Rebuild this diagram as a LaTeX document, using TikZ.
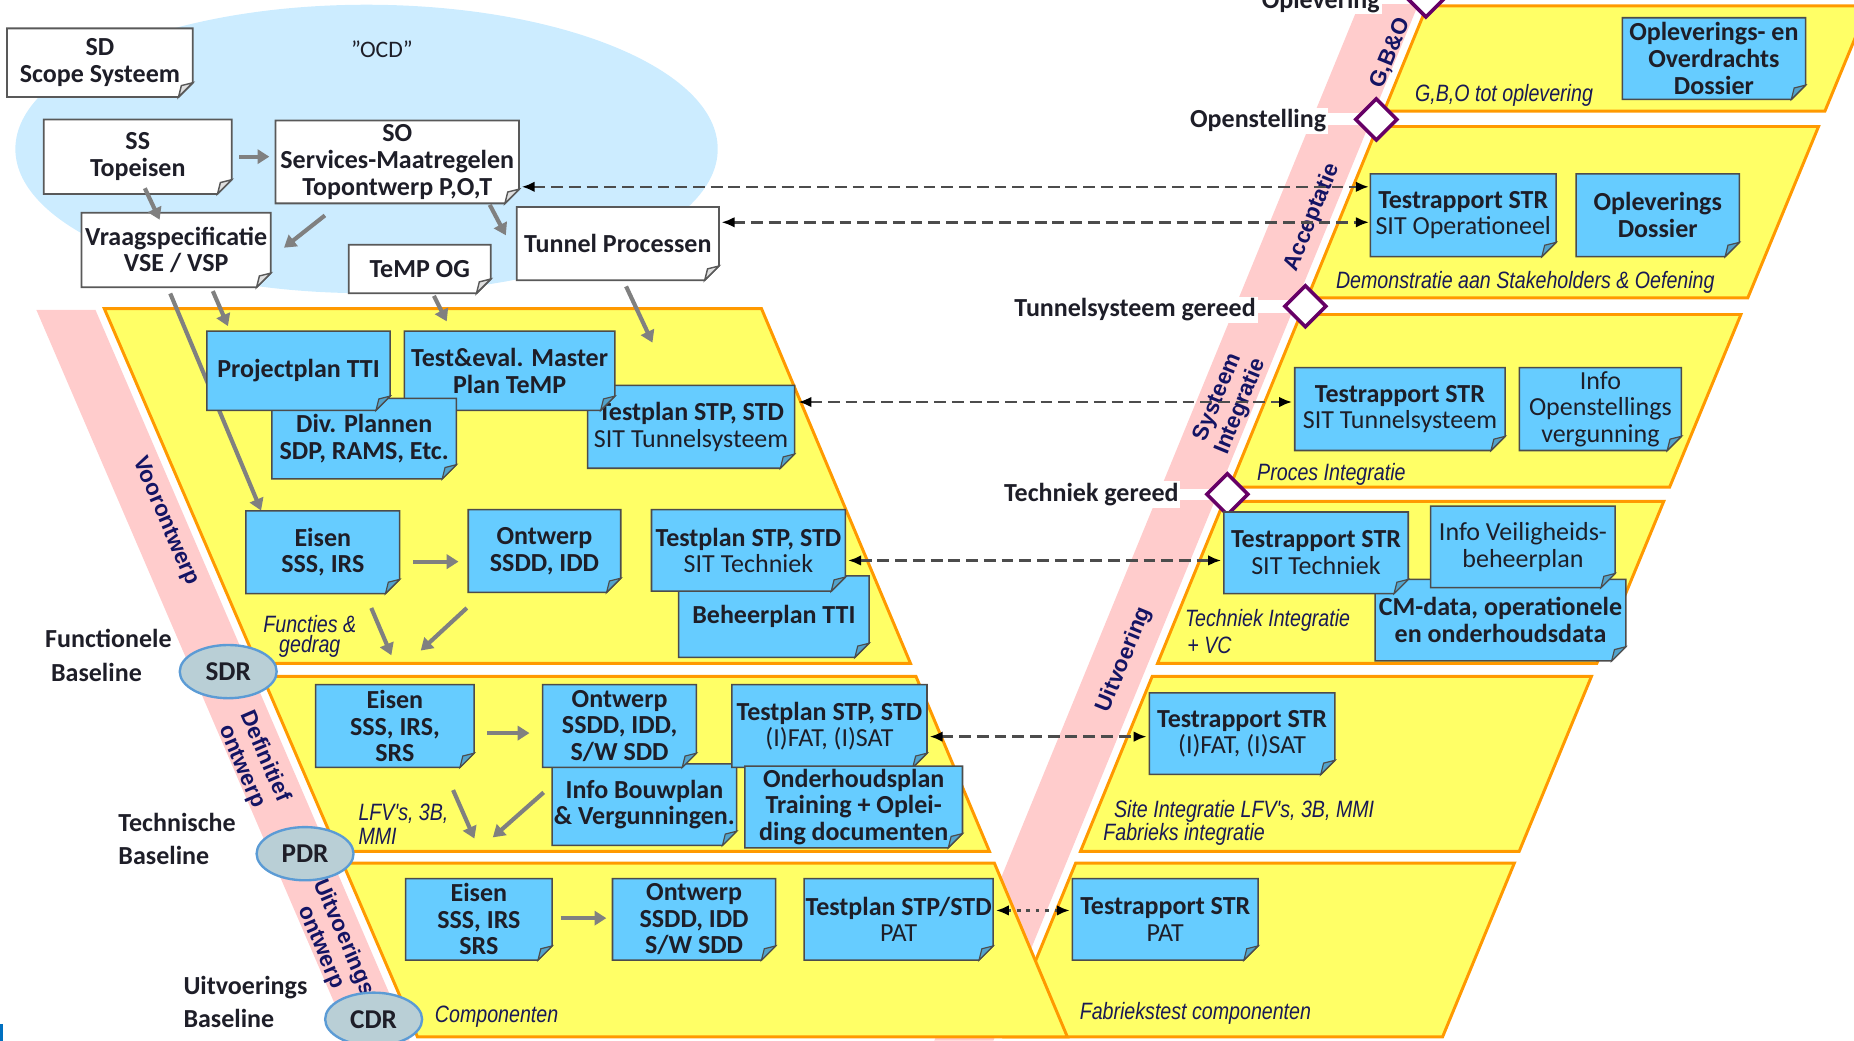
\documentclass[tikz,border=0pt]{standalone}
\usepackage{fontspec}
\setmainfont{Carlito}
\newfontfamily\narrowfont[FakeStretch=0.83]{Liberation Sans}
\newfontfamily\arialfont{Liberation Sans}
\usetikzlibrary{shapes.geometric,arrows.meta,calc}

\definecolor{ocdblue}{RGB}{204,236,255}
\definecolor{boxblue}{RGB}{102,204,255}
\definecolor{bandyellow}{RGB}{255,255,102}
\definecolor{bandorange}{RGB}{255,153,0}
\definecolor{vpink}{RGB}{255,204,204}
\definecolor{mspurple}{RGB}{102,0,102}
\definecolor{revfill}{RGB}{185,207,214}
\definecolor{revline}{RGB}{91,155,213}
\definecolor{navy}{RGB}{20,20,100}
\definecolor{labnavy}{RGB}{25,25,85}
\definecolor{txtdark}{RGB}{30,30,40}
\definecolor{arrgray}{RGB}{128,128,128}
\definecolor{cornerblue}{RGB}{0,112,192}

\pgfdeclarelayer{base}
\pgfdeclarelayer{under}
\pgfsetlayers{base,under,main}

\tikzset{
  band/.style={fill=bandyellow, draw=bandorange, line width=2.5pt},
  whitedoc/.style={fill=white, draw=black!65, line width=1.5pt},
  whitedocfold/.style={fill=black!12, draw=black!65, line width=1.2pt},
  bluedoc/.style={fill=boxblue, draw=black!70, line width=1.3pt},
  bluedocfold/.style={fill=boxblue!80!black, draw=black!70, line width=1pt},
  boxtext/.style={font=\bfseries\fontsize{22}{22.5}\selectfont, text=txtdark, align=center, inner sep=0pt},
  mslabel/.style={font=\bfseries\fontsize{22}{24}\selectfont, text=txtdark, fill=white, inner sep=1.5pt},
  baselab/.style={font=\bfseries\fontsize{22}{24}\selectfont, text=txtdark, anchor=base west, inner sep=0pt},
  milestone/.style={diamond, fill=white, draw=mspurple, line width=3pt, minimum width=36pt, minimum height=36pt, inner sep=0pt},
  review/.style={ellipse, fill=revfill, draw=revline, line width=2pt, minimum width=82pt, minimum height=45pt, inner sep=0pt, font=\bfseries\fontsize{23}{24}\selectfont, text=txtdark},
  phaselab/.style={font=\arialfont\bfseries\fontsize{19}{21}\selectfont, text=navy, align=center, inner sep=0pt},
  noteit/.style={font=\narrowfont\itshape\fontsize{20}{21}\selectfont, text=labnavy, inner sep=0pt},
  flow/.style={draw=arrgray, line width=3.5pt, -{Triangle[length=10pt,width=12pt]}},
  link/.style={draw=black!70, line width=2.2pt, dash pattern=on 10pt off 5pt,
    {Latex[length=11pt,width=9pt,color=black]}-{Latex[length=11pt,width=9pt,color=black]}},
}

% #1 style, #2 name, #3 x1, #4 y1, #5 x2, #6 y2, #7 text
\newcommand{\docnode}[7]{%
  \path[#1] (#3,#4) -- (#5,#4) -- (#5,#6-12) -- (#5-12,#6) -- (#3,#6) -- cycle;
  \path[#1fold] (#5,#6-12) -- (#5-12,#6) -- (#5-9.6,#6-9.6) -- cycle;
  \node[boxtext, minimum width={#5-#3}, minimum height={#6-#4}] (#2) at ({(#3+#5)/2},{(#4+#6)/2}) {#7};
}
\newcommand{\lband}[2]{\path[band] ({-24+0.43*#1},#1) -- ({534.4+0.42*#1},#1) -- ({534.4+0.42*#2},#2) -- ({-24+0.43*#2},#2) -- cycle;}
\newcommand{\rband}[2]{\path[band] ({1209-0.41*#1},#1) -- ({1582.2-0.413*#1},#1) -- ({1582.2-0.413*#2},#2) -- ({1209-0.41*#2},#2) -- cycle;}
\newcommand{\lite}[1]{{\mdseries #1}}

\begin{document}
\begin{tikzpicture}[x=1pt,y=-1pt]
\useasboundingbox (0,0) rectangle (1568,880);

\begin{pgfonlayer}{base}
% OCD cloud
\fill[ocdblue] (310,126) ellipse [x radius=297, y radius=122];
\node[font=\fontsize{20}{22}\selectfont, text=txtdark] (ocd) at (323,42) {''OCD''};

% pink V arms
\fill[vpink] (30.7,262) -- (80.7,262) -- (346.4,880) -- (296.4,880) -- cycle;
\fill[vpink] (1155.1,-10) -- (1205.1,-10) -- (840.2,880) -- (790.2,880) -- cycle;

% bands
\rband{5}{94}
\rband{107}{252}
\rband{266}{412}
\rband{424}{561}
\rband{572}{720}
\rband{730}{877}
\lband{261}{561}
\lband{572}{720}
\lband{730}{877}

% milestones
\fill[white] (1165,-10) rectangle (1206,3);
\fill[white] (1120,95.5) rectangle (1164,105.5);
\fill[white] (1060,253.5) rectangle (1104,264.5);
\fill[white] (995,413.5) rectangle (1038,422.5);
\node[mslabel, anchor=base] (lopl) at (1117,7) {Oplevering};
\node[mslabel, anchor=base] (lopen) at (1064,108) {Openstelling};
\node[mslabel, anchor=base] (ltun) at (960,268) {Tunnelsysteem gereed};
\node[mslabel, anchor=base] (ltech) at (923,424) {Techniek gereed};
\node[milestone] (msopl) at (1206,-3) {};
\node[milestone] (msopen) at (1164,101) {};
\node[milestone] (mstun) at (1104,259) {};
\node[milestone] (mstech) at (1038,418) {};

% phase labels on the V arms
\node[phaselab, rotate=-66.7] (pvoor) at (140,441) {Voorontwerp};
\node[phaselab, rotate=-66.7] (pdef) at (214,644) {Definitief\\ontwerp};
\node[phaselab, rotate=-66.7] (puit) at (281,797) {Uitvoerings\\ontwerp};
\node[phaselab, rotate=67.7] (pgbo) at (1176,45) {G,B\&O};
\node[phaselab, rotate=67.7] (pacc) at (1110,184) {Acceptatie};
\node[phaselab, rotate=67.7] (psys) at (1040,340) {Systeem\\Integratie};
\node[phaselab, rotate=67.7] (puitv) at (951,558) {Uitvoering};

% baselines and reviews
\node[baselab] (fb1) at (38,548) {Functionele};
\node[baselab] (fb2) at (43,576) {Baseline};
\node[baselab] (tb1) at (100,703) {Technische};
\node[baselab] (tb2) at (100,731) {Baseline};
\node[baselab] (ub1) at (155,841) {Uitvoerings};
\node[baselab] (ub2) at (155,869) {Baseline};
\node[review] (sdr) at (193,568) {SDR};
\node[review] (pdr) at (258,722) {PDR};
\node[review] (cdr) at (316,862) {CDR};
\end{pgfonlayer}

% top white documents
\docnode{whitedoc}{sd}{6}{24}{163}{82}{SD\\Scope Systeem}
\docnode{whitedoc}{ss}{37}{101}{196}{164}{SS\\Topeisen}
\docnode{whitedoc}{so}{233}{102}{439}{172}{SO\\Services-Maatregelen\\Topontwerp P,O,T}
\docnode{whitedoc}{vraag}{69}{180}{229}{243}{Vraagspecificatie\\VSE / VSP}
\docnode{whitedoc}{tog}{295}{207}{415}{248}{TeMP OG}
\docnode{whitedoc}{tunnel}{437}{175}{608}{237}{Tunnel Processen}

\draw[flow] ($(ss.east)+(6,0)$) -- ($(so.west |- ss.east)+(-5,0)$);
\draw[flow] ($(ss.south)+(6,-5)$) -- ($(vraag.north)+(-14,6)$);
\draw[flow] ($(so.south west)+(42,10)$) -- ($(vraag.east)+(11,-2)$);
\draw[flow] ($(so.south east)+(-25,1)$) -- ($(tunnel.west)+(-9,-7)$);

% band L1 documents
\docnode{bluedoc}{tsit}{497}{326}{672}{396}{Testplan STP, STD\\\lite{SIT Tunnelsysteem}}
\docnode{bluedoc}{te}{342}{280}{520}{347}{Test\&eval. Master\\Plan TeMP}
\docnode{bluedoc}{dp}{230}{337}{386}{405}{Div. Plannen\\SDP, RAMS, Etc.}
\docnode{bluedoc}{pp}{175}{280}{330}{347}{Projectplan TTI}
\docnode{bluedoc}{bp}{574}{487}{735}{556}{Beheerplan TTI}
\docnode{bluedoc}{tt}{551}{431}{715}{500}{Testplan STP, STD\\\lite{SIT Techniek}}
\docnode{bluedoc}{e1}{208}{432}{338}{502}{Eisen\\SSS, IRS}
\docnode{bluedoc}{o1}{396}{431}{525}{501}{Ontwerp\\SSDD, IDD}

% flows into the first band
\begin{pgfonlayer}{under}
\draw[flow] ($(vraag.south)+(-5,5)$) -- ($(e1.north west)+(13,0)$);
\end{pgfonlayer}
\draw[flow] ($(vraag.south)+(31,3)$) -- ($(pp.north west)+(18,-4)$);
\draw[flow] ($(tog.south)+(12,2)$) -- ($(te.north west)+(36,-8)$);
\draw[flow] ($(tunnel.south)+(7,5)$) -- ($(tsit.north west)+(55,-36)$);

\draw[flow] ($(e1.east)+(11,8)$) -- ($(o1.west |- e1.east)+(-8,8)$);
\draw[flow] ($(e1.south)+(41,12)$) -- ($(e1.south)+(58,52)$);
\draw[flow] ($(o1.south west)+(-1,13)$) -- ($(o1.south west)+(-40,49)$);

% band L2 documents
\docnode{bluedoc}{ib}{467}{646}{623}{715}{Info Bouwplan\\\& Vergunningen.}
\docnode{bluedoc}{e2}{267}{579}{401}{649}{Eisen\\SSS, IRS,\\SRS}
\docnode{bluedoc}{o2}{459}{579}{589}{649}{Ontwerp\\SSDD, IDD,\\S/W SDD}
\docnode{bluedoc}{tf}{619}{579}{784}{649}{Testplan STP, STD\\\lite{(I)FAT, (I)SAT}}
\docnode{bluedoc}{oh}{630}{648}{814}{717}{Onderhoudsplan\\Training + Oplei-\\ding documenten}
\draw[flow] ($(e2.east)+(11,6)$) -- ($(o2.west |- e2.east)+(-11,6)$);
\draw[flow] ($(e2.south east)+(-18,19)$) -- ($(e2.south east)+(0,60)$);
\draw[flow] ($(o2.south west)+(1,21)$) -- ($(o2.south west)+(-42,59)$);

% band L3 documents
\docnode{bluedoc}{e3}{343}{743}{467}{812}{Eisen\\SSS, IRS\\SRS}
\docnode{bluedoc}{o3}{518}{743}{656}{812}{Ontwerp\\SSDD, IDD\\S/W SDD}
\docnode{bluedoc}{tp}{680}{743}{840}{812}{Testplan STP/STD\\\lite{PAT}}
\draw[flow] ($(e3.east)+(7,-1)$) -- ($(o3.west |- e3.east)+(-5,-1)$);

% right side documents
\docnode{bluedoc}{od}{1372}{15}{1527}{84}{Opleverings- en\\Overdrachts\\Dossier}
\docnode{bluedoc}{rso}{1159}{147}{1316}{217}{Testrapport STR\\\lite{SIT Operationeel}}
\docnode{bluedoc}{odos}{1333}{147}{1471}{217}{Opleverings\\Dossier}
\docnode{bluedoc}{rst}{1095}{311}{1273}{381}{Testrapport STR\\\lite{SIT Tunnelsysteem}}
\docnode{bluedoc}{iov}{1285}{311}{1422}{381}{\lite{Info}\\\lite{Openstellings}\\\lite{vergunning}}
\docnode{bluedoc}{cm}{1163}{490}{1375}{559}{CM-data, operationele\\en onderhoudsdata}
\docnode{bluedoc}{rtk}{1035}{433}{1191}{502}{Testrapport STR\\\lite{SIT Techniek}}
\docnode{bluedoc}{iv}{1210}{428}{1366}{497}{\lite{Info Veiligheids-}\\\lite{beheerplan}}
\docnode{bluedoc}{rfat}{972}{586}{1129}{655}{Testrapport STR\\\lite{(I)FAT, (I)SAT}}
\docnode{bluedoc}{rpat}{907}{743}{1064}{812}{Testrapport STR\\\lite{PAT}}

% dashed links between test plans and test reports
\coordinate (lk1) at (0,158);
\coordinate (lk2) at (0,188);
\coordinate (lk3) at (0,340);
\coordinate (lk4) at (0,474);
\coordinate (lk5) at (0,623);
\coordinate (lk6) at (0,770);
\draw[link, shorten <=2pt, shorten >=1pt] (so.east |- lk1) -- (rso.west |- lk1);
\draw[link, shorten <=2pt, shorten >=1pt] (tunnel.east |- lk2) -- (rso.west |- lk2);
\draw[link, shorten <=3pt, shorten >=2pt] (tsit.east |- lk3) -- (rst.west |- lk3);
\draw[link, shorten <=2pt, shorten >=2pt] (tt.east |- lk4) -- (rtk.west |- lk4);
\draw[link, shorten <=2pt, shorten >=2pt] (tf.east |- lk5) -- (rfat.west |- lk5);
\draw[link, dash pattern=on 3pt off 5pt, shorten <=2pt, shorten >=2pt] (tp.east |- lk6) -- (rpat.west |- lk6);

% italic notes
\node[noteit] (n1) at (1272,81) {G,B,O tot oplevering};
\node[noteit] (n2) at (1290,239) {Demonstratie aan Stakeholders \& Oefening};
\node[noteit] (n3) at (1126,401) {Proces Integratie};
\node[noteit, anchor=west] (n4a) at (1002,525) {Techniek Integratie};
\node[noteit, anchor=west] (n4b) at (1004,546) {+ VC};
\node[noteit, anchor=west] (n5a) at (942,686) {Site Integratie LFV's, 3B, MMI};
\node[noteit, anchor=west] (n5b) at (933,706) {Fabrieks integratie};
\node[noteit] (n6) at (1011,857) {Fabriekstest componenten};
\node[noteit] (n7) at (420,860) {Componenten};
\node[noteit] (n8a) at (262,528) {Functies \&};
\node[noteit] (n8b) at (262,547) {gedrag};
\node[noteit, anchor=west] (n9a) at (303,688) {LFV's, 3B,};
\node[noteit, anchor=west] (n9b) at (303,707) {MMI};

\fill[cornerblue] (0,866) rectangle (2.5,880);
\end{tikzpicture}
\end{document}
